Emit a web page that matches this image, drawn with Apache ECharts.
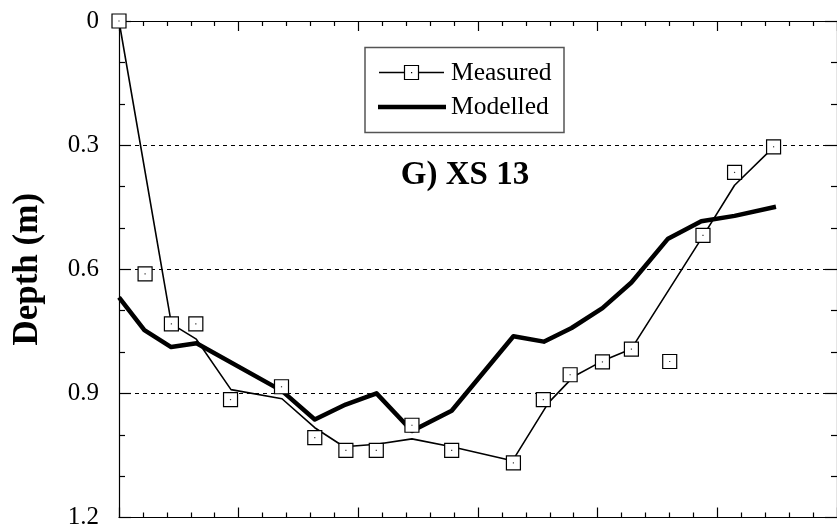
<!DOCTYPE html>
<html>
<head>
<meta charset="utf-8">
<script src="https://cdn.jsdelivr.net/npm/echarts@6/dist/echarts.min.js"></script>
<style>
html,body{margin:0;padding:0;background:#fff;}
#chart{width:837px;height:530px;}
</style>
</head>
<body>
<div id="chart"></div>
<script>
// ---- data ----
const titleText = 'G) XS 13';
const yAxisName = 'Depth (m)';
const legendNames = ['Measured', 'Modelled'];
const yTickLabels = ['0', '0.3', '0.6', '0.9', '1.2'];

// Measured survey points (markers)
const markerX     = [0, 1.09, 2.19, 3.21, 4.66, 6.79, 8.18, 9.48, 10.75, 12.24, 13.90, 16.48, 17.73, 18.85, 20.20, 21.41, 23.01, 24.40, 25.72, 27.35];
const markerDepth = [0, 0.611, 0.732, 0.732, 0.915, 0.884, 1.007, 1.038, 1.038, 0.977, 1.038, 1.068, 0.915, 0.855, 0.824, 0.793, 0.823, 0.518, 0.366, 0.304];

// Measured profile line
const measuredLineX     = [0, 2.19, 3.23, 4.68, 6.81, 8.18, 9.40, 10.76, 12.24, 13.90, 16.44, 17.94, 18.98, 20.19, 21.40, 24.40, 25.72, 27.35];
const measuredLineDepth = [0, 0.732, 0.769, 0.891, 0.913, 0.983, 1.029, 1.023, 1.010, 1.029, 1.063, 0.923, 0.860, 0.822, 0.793, 0.520, 0.397, 0.305];

// Modelled profile line
const modelledX     = [0, 1.06, 2.18, 3.24, 6.81, 8.18, 9.47, 10.76, 12.24, 13.90, 16.48, 17.75, 18.91, 20.20, 21.41, 22.94, 24.33, 25.72, 27.45];
const modelledDepth = [0.668, 0.747, 0.788, 0.779, 0.894, 0.963, 0.927, 0.900, 0.991, 0.942, 0.762, 0.775, 0.742, 0.694, 0.632, 0.526, 0.484, 0.471, 0.449];

const zip = (xs, ys) => xs.map((x, i) => [x, ys[i]]);

const FONT = 'Liberation Serif, Times New Roman, serif';
const chart = echarts.init(document.getElementById('chart'), null, {renderer: 'canvas'});

const xBase = {
  type: 'value', min: 0, max: 30, interval: 5,
  axisLine: {show: true, onZero: false, lineStyle: {color: '#000', width: 1.2}},
  axisTick: {show: true, inside: true, length: 10, lineStyle: {color: '#000', width: 1.2}},
  minorTick: {show: true, splitNumber: 5, length: 5, lineStyle: {color: '#000', width: 1.2}},
  axisLabel: {show: false},
  splitLine: {show: false}
};
const yBase = {
  type: 'value', min: 0, max: 1.2, interval: 0.3, inverse: true,
  axisLine: {show: true, onZero: false, lineStyle: {color: '#000', width: 1.2}},
  axisTick: {show: true, inside: true, length: 12, lineStyle: {color: '#000', width: 1.2}},
  minorTick: {show: true, splitNumber: 3, length: 6, lineStyle: {color: '#000', width: 1.2}},
  splitLine: {show: false}
};

chart.setOption({
  animation: false,
  backgroundColor: '#fff',
  grid: {left: 119, top: 21, width: 720, height: 499, containLabel: false},
  xAxis: [
    Object.assign({}, xBase, {position: 'bottom'}),
    Object.assign({}, xBase, {position: 'top'})
  ],
  yAxis: [
    Object.assign({}, yBase, {
      position: 'left',
      name: yAxisName, nameLocation: 'middle', nameRotate: 90, nameGap: 74,
      nameTextStyle: {fontFamily: FONT, fontSize: 35, fontWeight: 'bold', color: '#000'},
      axisLabel: {show: true, margin: 20, fontFamily: FONT, fontSize: 25, color: '#000',
        formatter: v => yTickLabels[Math.round(v / 0.3)]},
      splitLine: {show: true, lineStyle: {color: '#000', width: 1, type: [4, 4]}}
    }),
    Object.assign({}, yBase, {position: 'right', axisLabel: {show: false}})
  ],
  series: [
    {
      name: legendNames[1], type: 'line', data: zip(modelledX, modelledDepth),
      symbol: 'none', smooth: false, z: 3,
      lineStyle: {color: '#000', width: 4.5, join: 'round'}
    },
    {
      name: legendNames[0], type: 'line', data: zip(measuredLineX, measuredLineDepth),
      symbol: 'none', smooth: false, z: 4,
      lineStyle: {color: '#000', width: 1.6}
    },
    {
      name: legendNames[0] + ' points', type: 'scatter', data: zip(markerX, markerDepth),
      symbol: 'rect', symbolSize: 14, z: 5,
      itemStyle: {color: '#fff', borderColor: '#000', borderWidth: 1.2, opacity: 1}
    },
    {
      name: legendNames[0] + ' dots', type: 'scatter', data: zip(markerX, markerDepth),
      symbol: 'rect', symbolSize: 1.2, z: 6, silent: true,
      itemStyle: {color: '#000'}
    }
  ],
  graphic: [
    {type: 'rect', shape: {x: 365, y: 47.5, width: 199, height: 85}, z: 10,
      style: {fill: '#fff', stroke: '#555', lineWidth: 1.5}},
    {type: 'line', shape: {x1: 379, y1: 72.5, x2: 444, y2: 72.5}, z: 11,
      style: {stroke: '#000', lineWidth: 1.6}},
    {type: 'rect', shape: {x: 404.5, y: 65.5, width: 14, height: 14}, z: 12,
      style: {fill: '#fff', stroke: '#000', lineWidth: 1.2}},
    {type: 'rect', shape: {x: 411, y: 72, width: 1.2, height: 1.2}, z: 13,
      style: {fill: '#000'}},
    {type: 'line', shape: {x1: 378, y1: 107, x2: 446, y2: 107}, z: 11,
      style: {stroke: '#000', lineWidth: 4.5}},
    {type: 'text', x: 451, y: 73, z: 11,
      style: {text: legendNames[0], font: '25.5px ' + FONT, fill: '#000', textVerticalAlign: 'middle', verticalAlign: 'middle'}},
    {type: 'text', x: 451, y: 107, z: 11,
      style: {text: legendNames[1], font: '25.5px ' + FONT, fill: '#000', textVerticalAlign: 'middle', verticalAlign: 'middle'}},
    {type: 'text', x: 465, y: 175, z: 11,
      style: {text: titleText, font: 'bold 33px ' + FONT, fill: '#000', align: 'center', verticalAlign: 'middle', textAlign: 'center', textVerticalAlign: 'middle'}}
  ]
});
</script>
</body>
</html>
